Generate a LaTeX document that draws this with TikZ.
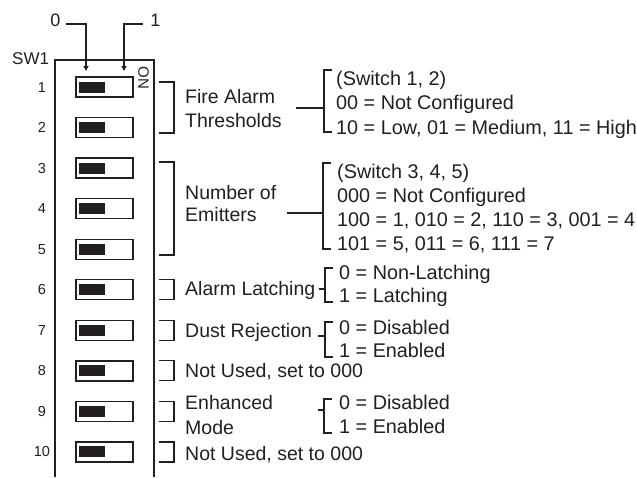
\documentclass[tikz,border=0pt]{standalone}
\usepackage{fontspec}
\setmainfont{Liberation Sans}
\usetikzlibrary{arrows.meta}
\definecolor{ink}{HTML}{231F20}
\begin{document}
\begin{tikzpicture}[x=1pt,y=-1pt,
  big/.style={font=\fontsize{19.5}{23}\selectfont, inner sep=0pt, anchor=base west, text=ink},
  bigr/.style={font=\fontsize{19.8}{23}\selectfont, inner sep=0pt, anchor=base west, text=ink},
  num/.style={font=\fontsize{14.5}{16}\selectfont, inner sep=0pt, anchor=base, text=ink},
  ln/.style={draw=ink, line width=1.2pt},
  boxline/.style={draw=ink, line width=1.4pt},
  swbox/.style={draw=ink, line width=1.3pt, minimum width=57pt, minimum height=20pt, inner sep=0pt, fill=white},
  knob/.style={fill=ink, minimum width=26pt, minimum height=11pt, inner sep=0pt},
  arr/.style={draw=ink, line width=1.2pt, -{Triangle[width=5pt,length=5pt]}}]
\useasboundingbox (0,0) rectangle (637,477);
\fill[white] (0,0) rectangle (637,477);

% housing
\draw[boxline] (55,477) -- (55,60) -- (154,60) -- (154,477);
\node[font=\fontsize{17}{19}\selectfont, inner sep=0pt, anchor=base west, text=ink] (sw1lbl) at (12,64) {SW1};
\node[font=\fontsize{15}{17}\selectfont, inner sep=0pt, rotate=-90, text=ink] (on) at (143.5,78) {ON};

% position labels with arrows
\node[font=\fontsize{18}{20}\selectfont, inner sep=0pt, anchor=base, text=ink] (pos0) at (55.5,26) {0};
\node[font=\fontsize{18}{20}\selectfont, inner sep=0pt, anchor=base, text=ink] (pos1) at (155.5,26) {1};
\coordinate (a0s) at (66,24);
\coordinate (a0e) at (86,71);
\coordinate (a1s) at (143,24);
\coordinate (a1e) at (124,71);
\draw[arr] (a0s) -| (a0e);
\draw[arr] (a1s) -| (a1e);

% switches
\foreach \i in {1,...,10} {
  \pgfmathsetmacro\cy{87+(\i-1)*40.55}
  \node[swbox] (s\i) at (104.5,\cy) {};
  \node[knob] (k\i) at (92,\cy) {};
  \node[num] (n\i) at (42,\cy+5) {\i};
}

% left brackets
\draw[ln] (159,82) -- (174,82) -- (174,133) -- (159,133);
\draw[ln] (159,162) -- (174,162) -- (174,255) -- (159,255);
\foreach \i in {6,...,10} {
  \pgfmathsetmacro\cy{87+(\i-1)*40.55}
  \draw[ln] (159,\cy-10) -- (174,\cy-10) -- (174,\cy+10) -- (159,\cy+10);
}

% group 1: fire alarm thresholds
\node[big] (fa1) at (185,103) {Fire Alarm};
\node[big] (fa2) at (185,127) {Thresholds};
\coordinate (st1a) at (296,108);
\coordinate (st1b) at (324,108);
\draw[ln] (st1a) -- (st1b);
\draw[ln] (332,70) -- (324,70) -- (324,132) -- (332,132);
\node[bigr] (fr1) at (336,85) {(Switch 1, 2)};
\node[bigr] (fr2) at (336,109.5) {00 = Not Configured};
\node[bigr] (fr3) at (336,134) {10 = Low, 01 = Medium, 11 = High};

% group 2: number of emitters
\node[big] (ne1) at (185,199) {Number of};
\node[big] (ne2) at (185,221) {Emitters};
\coordinate (st2a) at (287,213);
\coordinate (st2b) at (323,213);
\draw[ln] (st2a) -- (st2b);
\draw[ln] (331,163) -- (323,163) -- (323,249) -- (331,249);
\node[bigr] (nr1) at (337,178) {(Switch 3, 4, 5)};
\node[bigr] (nr2) at (337,202) {000 = Not Configured};
\node[bigr] (nr3) at (337,226) {100 = 1, 010 = 2, 110 = 3, 001 = 4};
\node[bigr] (nr4) at (337,250) {101 = 5, 011 = 6, 111 = 7};

% alarm latching
\node[big] (al) at (185,295) {Alarm Latching};
\coordinate (st3a) at (319,289);
\coordinate (st3b) at (325,289);
\draw[ln] (st3a) -- (st3b);
\draw[ln] (333,268) -- (325,268) -- (325,302) -- (333,302);
\node[bigr] (alr1) at (339,279) {0 = Non-Latching};
\node[bigr] (alr2) at (339,302) {1 = Latching};

% dust rejection
\node[big] (dr) at (185,337) {Dust Rejection};
\coordinate (st4a) at (318,336);
\coordinate (st4b) at (325,336);
\draw[ln] (st4a) -- (st4b);
\draw[ln] (333,322) -- (325,322) -- (325,357) -- (333,357);
\node[bigr] (drr1) at (339,334) {0 = Disabled};
\node[bigr] (drr2) at (339,357) {1 = Enabled};

% not used 8
\node[big] (nu8) at (185,377) {Not Used, set to 000};

% enhanced mode
\node[big] (em1) at (185,409) {Enhanced};
\node[big] (em2) at (185,434) {Mode};
\coordinate (st5a) at (318,410);
\coordinate (st5b) at (324,410);
\draw[ln] (st5a) -- (st5b);
\draw[ln] (332,399) -- (324,399) -- (324,433) -- (332,433);
\node[bigr] (emr1) at (339,409) {0 = Disabled};
\node[bigr] (emr2) at (339,433) {1 = Enabled};

% not used 10
\node[big] (nu10) at (185,460) {Not Used, set to 000};
\end{tikzpicture}
\end{document}
